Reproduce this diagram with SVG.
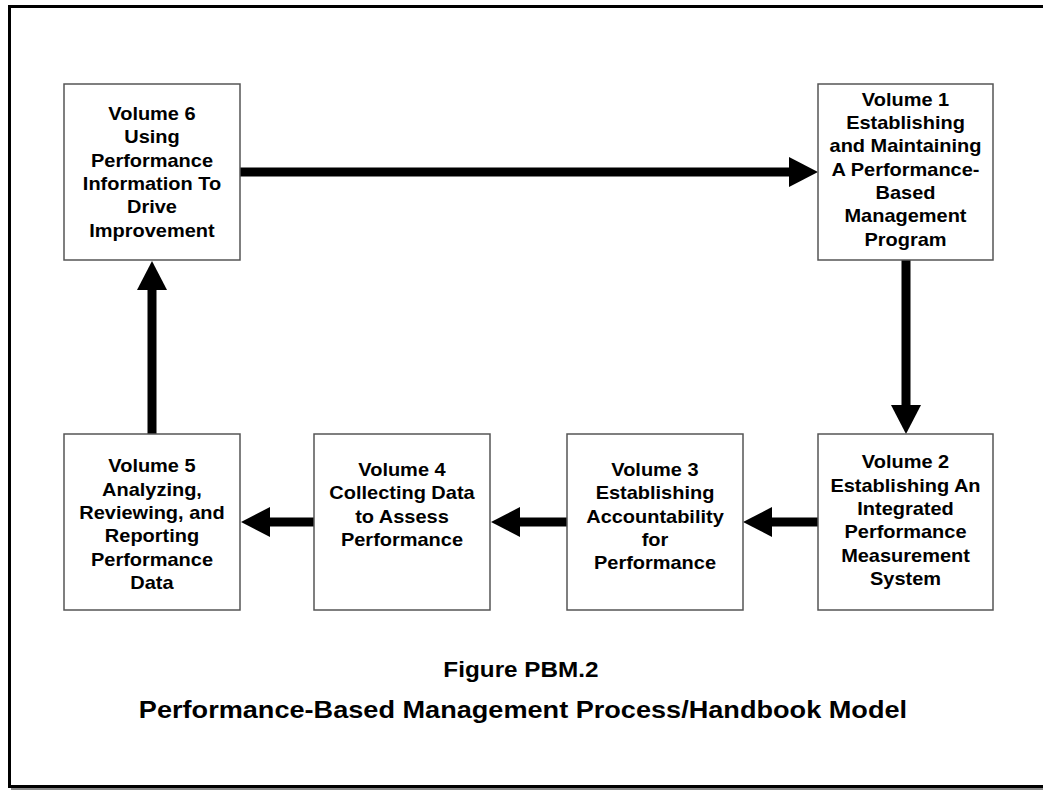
<svg xmlns="http://www.w3.org/2000/svg" width="1043" height="790" viewBox="0 0 1043 790">
<style>
.box{fill:#fff;stroke:#555;stroke-width:1.5}
.lbl{font-family:"Liberation Sans",Arial,sans-serif;font-weight:bold;font-size:18px;fill:#000;text-anchor:middle}
.ttl{font-family:"Liberation Sans",Arial,sans-serif;font-weight:bold;fill:#000;text-anchor:middle}
.arr{stroke:#000;stroke-width:9;fill:none;marker-end:url(#head)}
</style>
<defs>
<marker id="head" markerUnits="userSpaceOnUse" markerWidth="30" markerHeight="30" refX="1" refY="15" orient="auto">
<path d="M0,0 L29,15 L0,30 Z" fill="#000"/>
</marker>
</defs>
<rect width="1043" height="790" fill="#fff"/>
<g id="frame">
<path d="M1043,6.5 H9.5 V786.5 H1043" fill="none" stroke="#000" stroke-width="3"/>
<line x1="11" y1="789" x2="1043" y2="789" stroke="#888" stroke-width="2"/>
</g>
<g id="connectors">
<line class="arr" x1="240" y1="172" x2="790" y2="172"/>
<line class="arr" x1="906" y1="260" x2="906" y2="406"/>
<line class="arr" x1="818" y1="522" x2="771" y2="522"/>
<line class="arr" x1="567" y1="522" x2="519" y2="522"/>
<line class="arr" x1="314" y1="522" x2="269" y2="522"/>
<line class="arr" x1="152" y1="434" x2="152" y2="289"/>
</g>
<g id="vol6">
<rect class="box" x="64" y="84" width="176" height="176"/>
<g transform="scale(1.11 1)">
<text class="lbl" x="136.94" y="120">Volume 6</text>
<text class="lbl" x="136.94" y="143.3">Using</text>
<text class="lbl" x="136.94" y="166.6">Performance</text>
<text class="lbl" x="136.94" y="190">Information To</text>
<text class="lbl" x="136.94" y="213.3">Drive</text>
<text class="lbl" x="136.94" y="236.6">Improvement</text>
</g>
</g>
<g id="vol1">
<rect class="box" x="818" y="84" width="175" height="176"/>
<g transform="scale(1.11 1)">
<text class="lbl" x="815.77" y="105.7">Volume 1</text>
<text class="lbl" x="815.77" y="129">Establishing</text>
<text class="lbl" x="815.77" y="152.3">and Maintaining</text>
<text class="lbl" x="815.77" y="175.6">A Performance-</text>
<text class="lbl" x="815.77" y="199">Based</text>
<text class="lbl" x="815.77" y="222.3">Management</text>
<text class="lbl" x="815.77" y="245.6">Program</text>
</g>
</g>
<g id="vol2">
<rect class="box" x="818" y="434" width="175" height="176"/>
<g transform="scale(1.11 1)">
<text class="lbl" x="815.77" y="468.5">Volume 2</text>
<text class="lbl" x="815.77" y="491.8">Establishing An</text>
<text class="lbl" x="815.77" y="515.1">Integrated</text>
<text class="lbl" x="815.77" y="538.4">Performance</text>
<text class="lbl" x="815.77" y="561.7">Measurement</text>
<text class="lbl" x="815.77" y="585">System</text>
</g>
</g>
<g id="vol3">
<rect class="box" x="567" y="434" width="176" height="176"/>
<g transform="scale(1.11 1)">
<text class="lbl" x="590.09" y="476">Volume 3</text>
<text class="lbl" x="590.09" y="499.3">Establishing</text>
<text class="lbl" x="590.09" y="522.6">Accountability</text>
<text class="lbl" x="590.09" y="545.9">for</text>
<text class="lbl" x="590.09" y="569.2">Performance</text>
</g>
</g>
<g id="vol4">
<rect class="box" x="314" y="434" width="176" height="176"/>
<g transform="scale(1.11 1)">
<text class="lbl" x="362.16" y="476">Volume 4</text>
<text class="lbl" x="362.16" y="499.3">Collecting Data</text>
<text class="lbl" x="362.16" y="522.6">to Assess</text>
<text class="lbl" x="362.16" y="545.9">Performance</text>
</g>
</g>
<g id="vol5">
<rect class="box" x="64" y="434" width="176" height="176"/>
<g transform="scale(1.11 1)">
<text class="lbl" x="136.94" y="472.5">Volume 5</text>
<text class="lbl" x="136.94" y="495.8">Analyzing,</text>
<text class="lbl" x="136.94" y="519.1">Reviewing, and</text>
<text class="lbl" x="136.94" y="542.4">Reporting</text>
<text class="lbl" x="136.94" y="565.7">Performance</text>
<text class="lbl" x="136.94" y="589">Data</text>
</g>
</g>
<g id="caption" transform="scale(1.13 1)">
<text class="ttl" x="461.06" y="677" font-size="21.5">Figure PBM.2</text>
<text class="ttl" x="462.8" y="718.5" font-size="24">Performance-Based Management Process/Handbook Model</text>
</g>
</svg>
